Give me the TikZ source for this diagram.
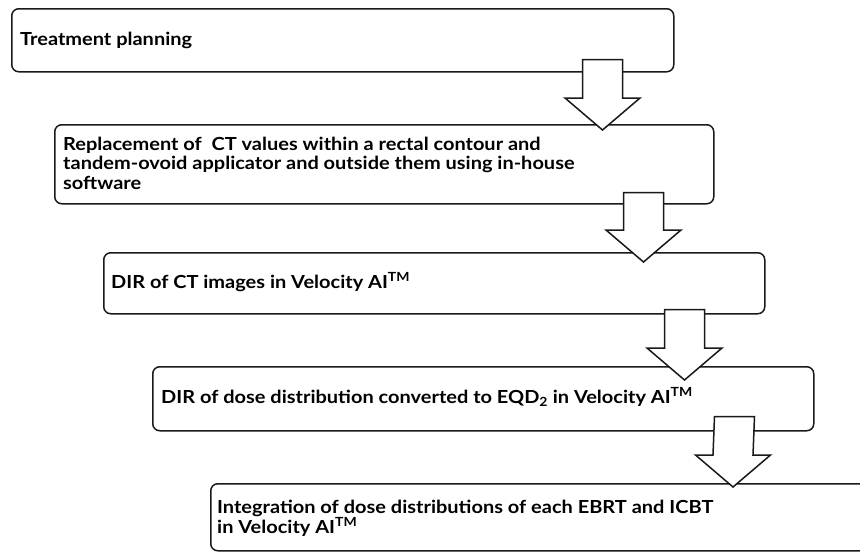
\documentclass[tikz,border=0pt]{standalone}
\usepackage{fontspec}
\setmainfont[FakeStretch=1.11]{Lato}
\usetikzlibrary{calc}
\tikzset{
  stepbox/.style={draw=black!90, line width=1.5pt, rounded corners=7pt, fill=white, inner sep=0pt},
  blockarrow/.style={draw=black!90, line width=1.5pt, fill=white, line join=miter},
  lbl/.style={anchor=base west, inner sep=0pt, font=\bfseries\fontsize{18}{19.5}\selectfont, align=left}
}
\newcommand\blockarr[2]{%
  \draw[blockarrow] ($(#1)+(-20,0)$) -- ($(#1)+(20,0)$) -- ($(#2)+(20,-32)$)
    -- ($(#2)+(37.5,-32)$) -- (#2) -- ($(#2)+(-37.5,-32)$) -- ($(#2)+(-20,-32)$) -- cycle;}
\begin{document}
\begin{tikzpicture}[x=1pt,y=-1pt]
\useasboundingbox (0,0) rectangle (860,552);
\clip (0,0) rectangle (860,552);
\fill[white] (0,0) rectangle (860,552);
% boxes
\node[stepbox, anchor=north west, minimum width=662pt, minimum height=63pt] (b1) at (11,8) {};
\node[stepbox, anchor=north west, minimum width=659pt, minimum height=79pt] (b2) at (54,124) {};
\node[stepbox, anchor=north west, minimum width=661pt, minimum height=61pt] (b3) at (103,252) {};
\node[stepbox, anchor=north west, minimum width=661pt, minimum height=64pt] (b4) at (152,366) {};
\node[stepbox, anchor=north west, minimum width=700pt, minimum height=67pt] (b5) at (210,483) {};
% labels (base anchor = last line baseline)
\node[lbl] (t1) at (20,45) {Treatment planning};
\node[lbl] (t2) at (63,189) {Replacement of~\ CT values within a rectal contour and\\tandem-ovoid applicator and outside them using in-house\\software};
\node[lbl] (t3) at (111,288) {DIR of CT images in Velocity AI\textsuperscript{TM}};
\node[lbl] (t4) at (161,403) {DIR of dose distribution converted to EQD\textsubscript{2} in Velocity AI\textsuperscript{TM}};
\node[lbl] (t5) at (217,533) {Integration of dose distributions of each EBRT and ICBT\\in Velocity AI\textsuperscript{TM}};
% arrow anchor coordinates
\coordinate (a1s) at ($(b1.south east)+(-72,-13)$);
\coordinate (a1t) at ($(b2.north east)+(-112,6)$);
\coordinate (a2s) at ($(b2.south east)+(-71,-12)$);
\coordinate (a2t) at ($(b3.north east)+(-122,10)$);
\coordinate (a3s) at ($(b3.south east)+(-81,-5)$);
\coordinate (a3t) at ($(b4.north east)+(-130,14)$);
\coordinate (a4s) at ($(b4.south east)+(-80,-15)$);
\coordinate (a4t) at ($(b5.north west)+(523,4)$);
\blockarr{a1s}{a1t}
\blockarr{a2s}{a2t}
\blockarr{a3s}{a3t}
\blockarr{a4s}{a4t}
\end{tikzpicture}
\end{document}
